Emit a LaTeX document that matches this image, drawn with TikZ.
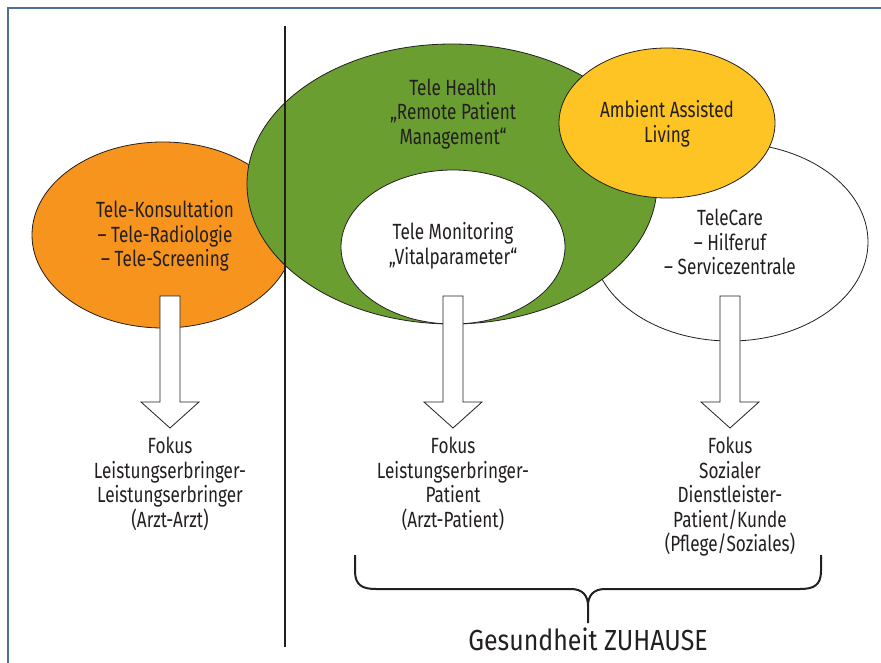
\documentclass[tikz,border=0pt]{standalone}
\usepackage{fontspec}
\setsansfont{Fira Sans}[FakeStretch=0.78]
\newfontfamily\homefont{Fira Sans}[FakeStretch=0.86]
\usetikzlibrary{calc,positioning,shapes.geometric}
\definecolor{framebl}{RGB}{79,112,150}
\definecolor{konsorange}{RGB}{246,148,30}
\definecolor{healthgreen}{RGB}{106,158,48}
\definecolor{aalyellow}{RGB}{253,196,35}
\definecolor{inkgray}{RGB}{35,31,32}

% hollow block arrow from #1 (top of shaft) down to #2 (tip)
\newcommand{\blockarrow}[2]{%
  \draw[arrowbox] ($(#1)+(-10,0)$) -- ($(#2)+(-10,-26)$) -- ($(#2)+(-29,-26)$) -- (#2)
    -- ($(#2)+(29,-26)$) -- ($(#2)+(10,-26)$) -- ($(#1)+(10,0)$) -- cycle;}

\begin{document}
\begin{tikzpicture}[x=1pt, y=-1pt, font=\sffamily\fontsize{22}{24.5}\selectfont, text=inkgray,
    field/.style={ellipse, draw=inkgray, line width=0.8pt, inner sep=0pt},
    caption/.style={align=center, inner sep=0pt},
    arrowbox/.style={draw=inkgray, fill=white, line width=0.8pt}]

\useasboundingbox (0,0) rectangle (881,663);

% frame (open at right and bottom)
\draw[framebl, line width=2pt] (8,663) -- (8,8) -- (881,8);

% ==================== FIELDS ====================

\node[field, fill=konsorange, minimum width=262pt, minimum height=186pt] (konsult) at (163,235) {};
\node[field, fill=white, minimum width=276pt, minimum height=198pt] (telecare) at (730,242) {};
\node[field, fill=healthgreen, minimum width=410pt, minimum height=280pt] (health) at (452,184) {};
\node[field, fill=white, minimum width=224pt, minimum height=154pt] (monitor) at (453,247) {};
\node[field, fill=aalyellow, minimum width=216pt, minimum height=150pt] (aal) at (667,123) {};

% divider
\draw[inkgray, line width=2pt] (285,26) -- (285,647);

% field texts
\node[caption] (konsultTxt) at (165,236) {Tele-Konsultation\\ – Tele-Radiologie\\ – Tele-Screening};
\node[caption] (healthTxt) at (453,114) {Tele Health\\ „Remote Patient\\ Management“};
\node[caption] (monitorTxt) at (453,246) {Tele Monitoring\\ „Vitalparameter“};
\node[caption] (aalTxt) at (667,124) {Ambient Assisted\\ Living};
\node[caption] (telecareTxt) at (730,242) {TeleCare\\ – Hilferuf\\ – Servicezentrale};

% ==================== FOCUS ARROWS ====================

\coordinate (topL) at (170,296);
\coordinate (topM) at (453,296);
\coordinate (topR) at (730,296);
\coordinate (tipL) at (170,428);
\coordinate (tipM) at (453,428);
\coordinate (tipR) at (730,428);

\blockarrow{topL}{tipL}
\blockarrow{topM}{tipM}
\blockarrow{topR}{tipR}

\node[caption, below=9pt of tipL] (fokusL) {Fokus\\ Leistungserbringer-\\ Leistungserbringer\\ (Arzt-Arzt)};
\node[caption, below=9pt of tipM] (fokusM) {Fokus\\ Leistungserbringer-\\ Patient\\ (Arzt-Patient)};
\node[caption, below=9pt of tipR] (fokusR) {Fokus\\ Sozialer\\ Dienstleister-\\ Patient/Kunde\\ (Pflege/Soziales)};

% ==================== BRACE ====================

\coordinate (braceL) at (355,555);
\coordinate (braceR) at (821,555);
\coordinate (braceTip) at (588,623);
\draw[inkgray, line width=2pt] (braceL) -- (355,571) .. controls (355,585) and (362,589) .. (376,589)
    -- (571,589) .. controls (583,589) and (588,596) .. (588,606) -- (braceTip);
\draw[inkgray, line width=2pt] (braceR) -- (821,571) .. controls (821,585) and (814,589) .. (800,589)
    -- (605,589) .. controls (593,589) and (588,596) .. (588,606);
\node[font=\homefont\fontsize{29}{32}\selectfont, inner sep=0pt, below=5pt of braceTip] (home) {Gesundheit ZUHAUSE};

\end{tikzpicture}
\end{document}
